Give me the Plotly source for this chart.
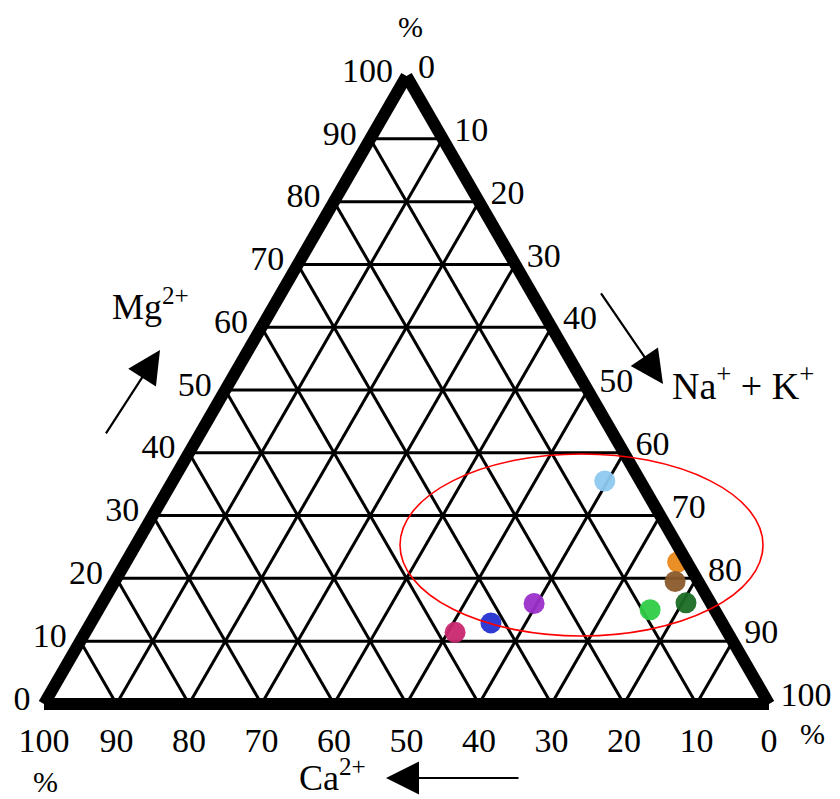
import plotly.graph_objects as go

# Sample composition (%): Mg2+, Ca2+, Na+ + K+
mg = [35.5, 22.6, 19.5, 16.1, 15.0, 16.0, 12.9, 11.4]
ca = [4.9, 1.3, 3.2, 3.4, 8.9, 24.4, 31.9, 37.6]
nak = [59.6, 76.1, 77.3, 80.5, 76.1, 59.6, 55.2, 51.0]
colors = ["#8ec9f0", "#e8891a", "#8b5a2b", "#1b6b25", "#2fcc44", "#9a2fc9", "#2332d2", "#c8286f"]

W, H = 840, 799
OFF = 8  # page offset of the figure in the browser
ML, MR, MB = 36, 79, 103
pw = W - ML - MR
ph = pw * 3 ** 0.5 / 2
MT = H - MB - ph


def px(x):
    return (x - OFF - ML) / pw


def py(y):
    return (H - MB - (y - OFF)) / ph


FONT = "Liberation Serif"

fig = go.Figure()
fig.add_trace(go.Scatterternary(
    a=mg, b=ca, c=nak, mode="markers",
    marker=dict(size=21, color=colors, line=dict(width=0), opacity=0.95),
    showlegend=False, hoverinfo="a+b+c",
))


def axis(ticklen):
    return dict(
        min=0, tickmode="linear", tick0=0, dtick=10,
        showgrid=True, gridcolor="black", gridwidth=2.5,
        showline=True, linecolor="black", linewidth=12,
        ticks="outside", ticklen=ticklen, tickcolor="rgba(0,0,0,0)",
        tickfont=dict(family=FONT, size=34, color="black"),
        title=dict(text=""),
    )


fig.update_layout(
    width=W, height=H,
    margin=dict(l=ML, r=MR, t=MT, b=MB),
    paper_bgcolor="white", plot_bgcolor="white",
    showlegend=False,
    ternary=dict(
        sum=100,
        bgcolor="white",
        aaxis=axis(4),
        baxis=axis(0),
        caxis=axis(4),
    ),
    font=dict(family=FONT, color="black"),
)

ann = []
# percent marks
for (x, y) in [(410, 27), (45, 781), (812, 733)]:
    ann.append(dict(x=px(x), y=py(y), xref="paper", yref="paper", text="%",
                    xanchor="center", yanchor="middle",
                    showarrow=False, font=dict(size=30, family=FONT, color="black")))
# titles
ann.append(dict(x=px(150), y=py(305), xref="paper", yref="paper", text="Mg<sup>2+</sup>",
                xanchor="center", yanchor="middle",
                showarrow=False, font=dict(size=36, family=FONT, color="black")))
ann.append(dict(x=px(670), y=py(383), xref="paper", yref="paper", text="Na<sup>+</sup> + K<sup>+</sup>",
                xanchor="left", yanchor="middle",
                showarrow=False, font=dict(size=38, family=FONT, color="black")))
ann.append(dict(x=px(332), y=py(775), xref="paper", yref="paper", text="Ca<sup>2+</sup>",
                xanchor="center", yanchor="middle",
                showarrow=False, font=dict(size=36, family=FONT, color="black")))
# arrows (head position, tail offset in pixels)
for (hx, hy, tx, ty) in [(160, 350, 105, 435), (663, 384, 600, 292), (386, 778, 520, 778)]:
    ann.append(dict(x=px(hx), y=py(hy), xref="paper", yref="paper",
                    ax=tx - hx, ay=ty - hy, axref="pixel", ayref="pixel",
                    text="", showarrow=True, arrowhead=2, arrowsize=3, arrowwidth=2.2,
                    arrowcolor="black"))
fig.update_layout(annotations=ann)

# highlight ellipse
fig.add_shape(type="circle", xref="paper", yref="paper",
              x0=px(400), x1=px(763), y0=py(636), y1=py(454),
              line=dict(color="red", width=1.6), layer="above")

fig.write_html("out.html")
